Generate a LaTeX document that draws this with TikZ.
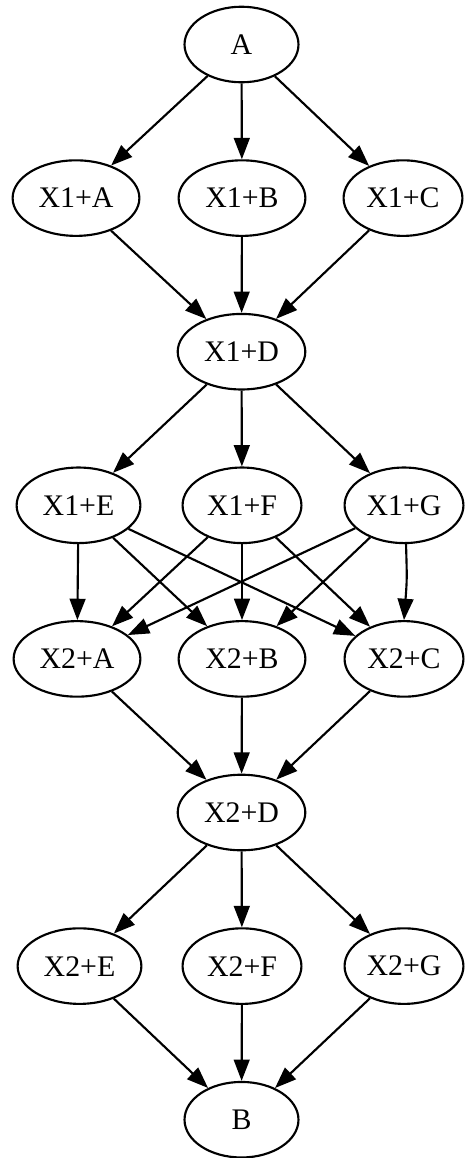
\documentclass[tikz,border=0pt]{standalone}
\usepackage{fontspec}
\setmainfont{Liberation Serif}
\usetikzlibrary{shapes.geometric,arrows.meta}
\begin{document}
\begin{tikzpicture}[x=0.4686pt,y=-0.4686pt,
  nd/.style={draw,ellipse,line width=1pt,inner sep=0pt,minimum height=35.4pt,font=\fontsize{14}{16}\selectfont},
  wa/.style={minimum width=53.4pt},
  wb/.style={minimum width=59.4pt},
  wc/.style={minimum width=55.7pt},
  we/.style={minimum width=58pt},
  wd/.style={minimum width=59.8pt},
  arr/.style={-{Triangle[length=10pt,width=7.4pt]},line width=1pt}]
\useasboundingbox (0,0) rectangle (464,1158);
% rank 0
\node[nd,wa] (A) at (241.5,44.5) {A};
% rank 1
\node[nd,wb] (x1a) at (76,198.1) {X1+A};
\node[nd,wb] (x1b) at (242,198.1) {X1+B};
\node[nd,wc] (x1c) at (403,198.1) {X1+C};
% rank 2
\node[nd,wd] (x1d) at (241.5,351.7) {X1+D};
% rank 3
\node[nd,we] (x1e) at (78.5,505.3) {X1+E};
\node[nd,wc] (x1f) at (242,505.3) {X1+F};
\node[nd,wc] (x1g) at (404,505.3) {X1+G};
% rank 4
\node[nd,wb] (x2a) at (77,658.9) {X2+A};
\node[nd,wb] (x2b) at (242,658.9) {X2+B};
\node[nd,wc] (x2c) at (404,658.9) {X2+C};
% rank 5
\node[nd,wd] (x2d) at (241.5,812.5) {X2+D};
% rank 6
\node[nd,we] (x2e) at (79.5,966.1) {X2+E};
\node[nd,wc] (x2f) at (242,966.1) {X2+F};
\node[nd,wc] (x2g) at (404,966.1) {X2+G};
% rank 7
\node[nd,wa] (B) at (241.5,1119.7) {B};
% edges
\draw[arr] (A) -- (x1a);
\draw[arr] (A) -- (x1b);
\draw[arr] (A) -- (x1c);
\draw[arr] (x1a) -- (x1d);
\draw[arr] (x1b) -- (x1d);
\draw[arr] (x1c) -- (x1d);
\draw[arr] (x1d) -- (x1e);
\draw[arr] (x1d) -- (x1f);
\draw[arr] (x1d) -- (x1g);
\draw[arr] (x1e) -- (x2a);
\draw[arr] (x1e) -- (x2b);
\draw[arr] (x1e) -- (x2c);
\draw[arr] (x1f) -- (x2a);
\draw[arr] (x1f) -- (x2b);
\draw[arr] (x1f) -- (x2c);
\draw[arr] (x1g) -- (x2a);
\draw[arr] (x1g) -- (x2b);
\draw[arr] (x1g.-87) .. controls +(1,35) .. (x2c.north);
\draw[arr] (x2a) -- (x2d);
\draw[arr] (x2b) -- (x2d);
\draw[arr] (x2c) -- (x2d);
\draw[arr] (x2d) -- (x2e);
\draw[arr] (x2d) -- (x2f);
\draw[arr] (x2d) -- (x2g);
\draw[arr] (x2e) -- (B);
\draw[arr] (x2f) -- (B);
\draw[arr] (x2g) -- (B);
\end{tikzpicture}
\end{document}
